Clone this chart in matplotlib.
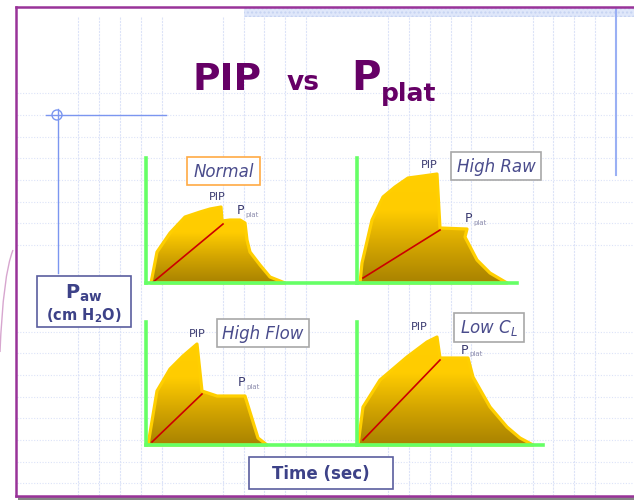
import numpy as np
import matplotlib
matplotlib.use('Agg')
import matplotlib.pyplot as plt
from matplotlib.patches import Rectangle, Polygon, Circle, PathPatch
from matplotlib.path import Path
from matplotlib.colors import LinearSegmentedColormap

### Data (time units, pressure units)
normal_t = [5, 11, 24, 39, 54, 64, 75, 76, 84, 94, 99, 101, 104, 114, 124, 139]
normal_p = [0, 31, 50, 66, 71, 74, 76, 62, 63, 63, 60, 43, 31, 18, 6, 0]
normal_ramp_t = [6, 77]
normal_ramp_p = [0, 59]

raw_t = [3, 5, 15, 26, 38, 51, 66, 80, 83, 110, 108, 120, 133, 150]
raw_p = [0, 20, 63, 86, 96, 105, 107, 109, 55, 54, 46, 23, 10, 0]
raw_ramp_t = [6, 83]
raw_ramp_p = [5, 53]

flow_t = [2, 11, 24, 37, 51, 56, 71, 99, 112, 121]
flow_p = [0, 54, 76, 89, 101, 54, 49, 49, 7, 0]
flow_ramp_t = [6, 56]
flow_ramp_p = [3, 51]

lowc_t = [1, 6, 23, 50, 70, 80, 83, 111, 116, 133, 150, 163, 176]
lowc_p = [0, 38, 65, 88, 103, 108, 87, 87, 68, 38, 18, 7, 0]
lowc_ramp_t = [6, 83]
lowc_ramp_p = [5, 85]

panel_names = ['Normal', 'High Raw', 'High Flow', 'Low C$_L$']

W, H = 634, 500
purple = '#993399'
navy = '#3D4288'
grid_col = '#DCE3F8'

fig = plt.figure(figsize=(W/100, H/100), dpi=100)
fig.patch.set_facecolor('white')

# background axes in pixel units
bg = fig.add_axes([0, 0, 1, 1])
bg.set_xlim(0, W)
bg.set_ylim(H, 0)
bg.axis('off')

# slide grid
for y in [93, 115, 137, 158, 180, 202, 223, 245, 332, 353, 375, 397, 418, 440, 462, 483]:
	bg.plot([17, W], [y, y], color=grid_col, lw=0.8, ls=(0, (1, 1.5)), zorder=0)
xs = [78, 99, 120, 141, 162, 223, 244, 264, 285, 306, 388, 409, 430, 451, 471, 533, 553, 574, 595]
for x in xs:
	bg.plot([x, x], [17, 495], color=grid_col, lw=0.8, ls=(0, (2, 1)), zorder=0)

# top band, border, shadow
bg.add_patch(Rectangle((244, 8), W - 244, 9, facecolor='#DFE7FA', edgecolor='#C6D3F2', hatch='....', lw=0, zorder=1))
bg.plot([16, W], [7, 7], color=purple, lw=1.8, zorder=3)
bg.plot([16, 16], [7, 496], color=purple, lw=1.8, zorder=3)
bg.plot([16, W], [495.5, 495.5], color=purple, lw=1.8, zorder=3)
bg.add_patch(Rectangle((18, 497), W - 18, 4, facecolor='#858585', lw=0, zorder=2))

# blue guide lines
blue = '#7B96F0'
bg.plot([46, 166], [115, 115], color=blue, lw=1, zorder=2)
bg.plot([58, 58], [109, 273], color=blue, lw=1, zorder=2)
bg.add_patch(Circle((57, 115), 5, fill=False, edgecolor=blue, lw=1, zorder=2))
bg.plot([616, 616], [8, 175], color='#9AB0F4', lw=1.5, zorder=2)

# pink arc on the left
arc = Path([(13, 250), (3, 275), (0, 352)], [Path.MOVETO, Path.CURVE3, Path.CURVE3])
bg.add_patch(PathPatch(arc, fill=False, edgecolor='#D7A6CF', lw=1, zorder=2))

# title
tc = '#660066'
bg.text(193, 90, 'PIP', fontsize=27, fontweight='bold', color=tc, va='baseline')
bg.text(287, 90, 'vs', fontsize=19, fontweight='bold', color=tc, va='baseline')
bg.text(351, 90, 'P', fontsize=29, fontweight='bold', color=tc, va='baseline')
bg.text(381, 101, 'plat', fontsize=18, fontweight='bold', color=tc, va='baseline')

# axis label boxes
bg.add_patch(Rectangle((37, 276), 94, 51, facecolor='white', edgecolor='#5A5E9E', lw=1.2, zorder=4))
bg.text(84, 299, r'$\mathbf{P}_{\mathbf{aw}}$', fontsize=14, color=navy, ha='center', va='baseline', zorder=5)
bg.text(84, 320, r'(cm H$_{\mathbf{2}}$O)', fontsize=10.5, fontweight='bold', color=navy, ha='center', va='baseline', zorder=5)

bg.add_patch(Rectangle((249, 457), 144, 32, facecolor='white', edgecolor='#5A5E9E', lw=1.2, zorder=4))
bg.text(321, 474, 'Time (sec)', fontsize=12, fontweight='bold', color=navy, ha='center', va='center', zorder=5)

# panel name boxes
name_boxes = [(187, 157, 73, 28, '#FFAA44'), (451, 152, 90, 28, '#A8A8A8'),
			  (217, 319, 92, 28, '#A8A8A8'), (454, 313, 70, 29, '#A8A8A8')]
for (bx, by, bw, bh, ec), name in zip(name_boxes, panel_names):
	bg.add_patch(Rectangle((bx, by), bw, bh, facecolor='white', edgecolor=ec, lw=1.2, zorder=4))
	bg.text(bx + bw/2, by + bh/2 + 1, name, fontsize=12, style='italic', color='#4A4C8C',
			ha='center', va='center', zorder=5)

cmap = LinearSegmentedColormap.from_list('gold', ['#A88200', '#D2A400', '#FFCC00', '#FFCE00'])


def make_panel(x0, ytop, x1, ybot):
	ax = fig.add_axes([x0/W, 1 - ybot/H, (x1 - x0)/W, (ybot - ytop)/H])
	ax.set_xlim(0, x1 - x0)
	ax.set_ylim(0, ybot - ytop)
	ax.patch.set_visible(False)
	for s in ['top', 'right']:
		ax.spines[s].set_visible(False)
	for s in ['left', 'bottom']:
		ax.spines[s].set_color('#66FF66')
		ax.spines[s].set_linewidth(2.6)
		ax.spines[s].set_zorder(6)
	ax.set_xticks([])
	ax.set_yticks([])
	return ax


def draw_wave(ax, t, p, rt, rp, pip_xy, plat_xy):
	xlim = ax.get_xlim()
	ylim = ax.get_ylim()
	pts = np.column_stack([t, p])
	poly = Polygon(pts, closed=True, facecolor='none', edgecolor='none')
	ax.add_patch(poly)
	grad = np.linspace(0, 1, 256).reshape(-1, 1)
	im = ax.imshow(grad, extent=(0, max(t), 0, max(p)), origin='lower', aspect='auto',
				   cmap=cmap, zorder=1)
	im.set_clip_path(poly)
	ax.add_patch(Polygon(pts, closed=True, facecolor='none', edgecolor='#FFCF00',
						 lw=2.3, joinstyle='round', zorder=2, clip_on=False))
	ax.plot(rt, rp, color='#CC0000', lw=1.2, zorder=3)
	ax.text(pip_xy[0], pip_xy[1], 'PIP', fontsize=8, color='#3A3A70', ha='center', va='center')
	ax.text(plat_xy[0], plat_xy[1], 'P', fontsize=9, color='#3A3A70', ha='left', va='center')
	ax.text(plat_xy[0] + 8, plat_xy[1] - 4, 'plat', fontsize=5, color='#8E8EAE', ha='left', va='center')
	ax.set_xlim(xlim)
	ax.set_ylim(ylim)


ax1 = make_panel(146, 158, 357, 283)
draw_wave(ax1, normal_t, normal_p, normal_ramp_t, normal_ramp_p, (71, 86), (91, 72))

ax2 = make_panel(357, 158, 517, 283)
draw_wave(ax2, raw_t, raw_p, raw_ramp_t, raw_ramp_p, (72, 118), (108, 64))

ax3 = make_panel(146, 322, 357, 445)
draw_wave(ax3, flow_t, flow_p, flow_ramp_t, flow_ramp_p, (51, 111), (92, 62))

ax4 = make_panel(357, 322, 543, 445)
draw_wave(ax4, lowc_t, lowc_p, lowc_ramp_t, lowc_ramp_p, (62, 118), (104, 95))

fig.savefig('out.png', dpi=100)
